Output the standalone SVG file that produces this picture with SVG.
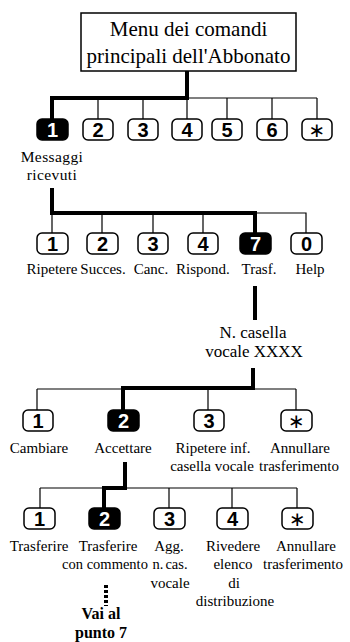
<svg xmlns="http://www.w3.org/2000/svg" width="350" height="642" viewBox="0 0 350 642">
<style>
.bg{fill:#fff}
.box{fill:#fff;stroke:#000;stroke-width:1.5}
.btn{fill:#fff;stroke:#000;stroke-width:1.5}
.sel{fill:#000;stroke:#000;stroke-width:1.5}
.d{font-family:"Liberation Sans",Arial,sans-serif;font-weight:bold;font-size:20px;text-anchor:middle;fill:#000}
.ds{font-family:"Liberation Sans",Arial,sans-serif;font-weight:bold;font-size:20px;text-anchor:middle;fill:#fff}
.ast{font-family:"DejaVu Sans",sans-serif;font-size:20px;text-anchor:middle;fill:#000}
.t{font-family:"Liberation Serif","Times New Roman",serif;font-size:15px;text-anchor:middle;fill:#000}
.title{font-family:"Liberation Serif","Times New Roman",serif;font-size:21px;text-anchor:middle;fill:#000}
.b{font-family:"Liberation Serif","Times New Roman",serif;font-size:16px;font-weight:bold;text-anchor:middle;fill:#000}
.thin{fill:none;stroke:#000;stroke-width:1.2}
.thick{fill:none;stroke:#000;stroke-width:4;stroke-linejoin:miter;stroke-linecap:square}
.dot{fill:none;stroke:#000;stroke-width:4;stroke-dasharray:3 2}
</style>
<rect class="bg" x="0" y="0" width="350" height="642"/>
<g id="connectors">
<path class="thin" d="M187,98H317M98,98V119M143,98V119M187,98V119M227,98V119M272,98V119M317,98V119"/>
<path class="thick" d="M187,72V98H52V119"/>
<path class="thin" d="M255,213H306V233M52,213V233M102,213V233M153,213V233M203,213V233"/>
<path class="thick" d="M52,190V213H255V233"/>
<path class="thick" d="M255,288V318"/>
<path class="thin" d="M37,389H296M37,389V410M208,389V410M296,389V410"/>
<path class="thick" d="M253,370V388H123V410"/>
<path class="thin" d="M40,488H297M40,488V508M169,488V508M232,488V508M297,488V508"/>
<path class="thick" d="M125,464V488H104V508"/>
<path class="dot" d="M106,585V606"/>
</g>
<g id="title">
<rect class="box" x="81" y="13" width="215" height="58"/>
<text class="title" x="188.5" y="36">Menu dei comandi</text>
<text class="title" x="188.5" y="63">principali dell'Abbonato</text>
</g>
<g id="r1-1"><rect class="sel" x="37" y="119" width="31" height="21" rx="5"/><text class="ds" x="52.5" y="137">1</text>
<text class="t" x="52" y="162" style="font-size:15.5px;letter-spacing:0.4px">Messaggi</text><text class="t" x="52" y="180" style="font-size:15.5px;letter-spacing:0.4px">ricevuti</text></g>
<g id="r1-2"><rect class="btn" x="83" y="119" width="30" height="21" rx="5"/><text class="d" x="98" y="137">2</text></g>
<g id="r1-3"><rect class="btn" x="128" y="119" width="30" height="21" rx="5"/><text class="d" x="143" y="137">3</text></g>
<g id="r1-4"><rect class="btn" x="172" y="119" width="30" height="21" rx="5"/><text class="d" x="187" y="137">4</text></g>
<g id="r1-5"><rect class="btn" x="212" y="119" width="30" height="21" rx="5"/><text class="d" x="227" y="137">5</text></g>
<g id="r1-6"><rect class="btn" x="257" y="119" width="30" height="21" rx="5"/><text class="d" x="272" y="137">6</text></g>
<g id="r1-star"><rect class="btn" x="302" y="119" width="30" height="21" rx="5"/><text class="ast" x="317" y="137">∗</text></g>

<g id="r2-1"><rect class="btn" x="37" y="233" width="31" height="21" rx="5"/><text class="d" x="52.5" y="251">1</text><text class="t" x="52" y="274">Ripetere</text></g>
<g id="r2-2"><rect class="btn" x="87" y="233" width="31" height="21" rx="5"/><text class="d" x="102.5" y="251">2</text><text class="t" x="103" y="274">Succes.</text></g>
<g id="r2-3"><rect class="btn" x="138" y="233" width="30" height="21" rx="5"/><text class="d" x="153" y="251">3</text><text class="t" x="151" y="274">Canc.</text></g>
<g id="r2-4"><rect class="btn" x="188" y="233" width="30" height="21" rx="5"/><text class="d" x="203" y="251">4</text><text class="t" x="203" y="274">Rispond.</text></g>
<g id="r2-7"><rect class="sel" x="240" y="233" width="31" height="21" rx="5"/><text class="ds" x="255.5" y="251">7</text><text class="t" x="259" y="274">Trasf.</text></g>
<g id="r2-0"><rect class="btn" x="291" y="233" width="31" height="21" rx="5"/><text class="d" x="306.5" y="251">0</text><text class="t" x="310" y="274">Help</text></g>

<g id="casella"><text class="t" x="253" y="338" style="font-size:17px">N. casella</text><text class="t" x="254" y="357" style="font-size:17px">vocale XXXX</text></g>

<g id="r3-1"><rect class="btn" x="23" y="410" width="30" height="21" rx="5"/><text class="d" x="38" y="428">1</text><text class="t" x="39" y="453">Cambiare</text></g>
<g id="r3-2"><rect class="sel" x="108" y="410" width="31" height="21" rx="5"/><text class="ds" x="123.5" y="428">2</text><text class="t" x="123" y="453">Accettare</text></g>
<g id="r3-3"><rect class="btn" x="194" y="410" width="30" height="21" rx="5"/><text class="d" x="209" y="428">3</text><text class="t" x="213" y="453">Ripetere inf.</text><text class="t" x="212" y="471">casella vocale</text></g>
<g id="r3-star"><rect class="btn" x="281" y="410" width="31" height="21" rx="5"/><text class="ast" x="296.5" y="428">∗</text><text class="t" x="300" y="453">Annullare</text><text class="t" x="299" y="471">trasferimento</text></g>

<g id="r4-1"><rect class="btn" x="24" y="508" width="31" height="21" rx="5"/><text class="d" x="39.5" y="526">1</text><text class="t" x="39" y="551">Trasferire</text></g>
<g id="r4-2"><rect class="sel" x="89" y="508" width="31" height="21" rx="5"/><text class="ds" x="104.5" y="526">2</text><text class="t" x="108" y="551">Trasferire</text><text class="t" x="105" y="569" style="font-size:14.5px">con commento</text></g>
<g id="r4-3"><rect class="btn" x="154" y="508" width="31" height="21" rx="5"/><text class="d" x="169.5" y="526">3</text><text class="t" x="169" y="551">Agg.</text><text class="t" x="170" y="569" style="font-size:14.5px;word-spacing:-1.5px">n. cas.</text><text class="t" x="170" y="588">vocale</text></g>
<g id="r4-4"><rect class="btn" x="217" y="508" width="31" height="21" rx="5"/><text class="d" x="232.5" y="526">4</text><text class="t" x="233" y="551">Rivedere</text><text class="t" x="233" y="569">elenco</text><text class="t" x="234" y="588">di</text><text class="t" x="235" y="606">distribuzione</text></g>
<g id="r4-star"><rect class="btn" x="282" y="508" width="31" height="21" rx="5"/><text class="ast" x="297.5" y="526">∗</text><text class="t" x="306" y="551">Annullare</text><text class="t" x="303" y="569">trasferimento</text></g>

<g id="vai"><text class="b" x="101" y="619">Vai al</text><text class="b" x="101" y="638">punto 7</text></g>
</svg>
